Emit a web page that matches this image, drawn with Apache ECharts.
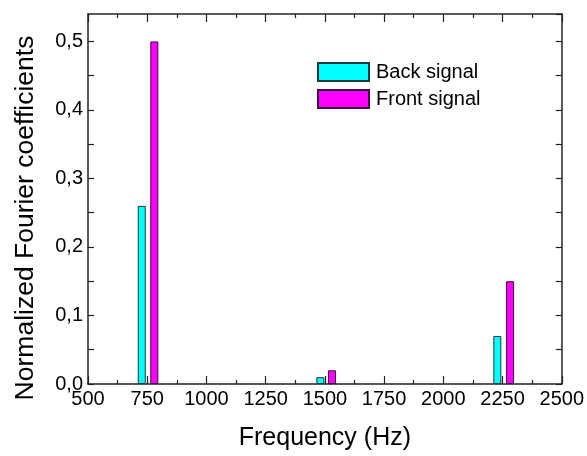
<!DOCTYPE html>
<html>
<head>
<meta charset="utf-8">
<script src="https://cdn.jsdelivr.net/npm/echarts@6/dist/echarts.min.js"></script>
<style>
    html, body { margin: 0; padding: 0; background: #fff; }
    #chart { width: 587px; height: 456px; }
</style>
</head>
<body>
<div id="chart"></div>
<script>
// values
const legendNames = ["Back signal", "Front signal"];
const backFreq = [727, 1481, 2228];
const backAmp = [0.26, 0.01, 0.07];
const frontFreq = [780, 1530, 2282];
const frontAmp = [0.5, 0.02, 0.15];
const xTicks = [500, 750, 1000, 1250, 1500, 1750, 2000, 2250, 2500];

const font = "Arial, 'Liberation Sans', sans-serif";
const axisColor = "#222";

function pairs(xs, ys) {
    return xs.map((x, i) => [x, ys[i]]);
}

let myChart = echarts.init(document.getElementById("chart"));

let xCommon = {
    type: "value",
    min: xTicks[0],
    max: xTicks[xTicks.length - 1],
    interval: xTicks[1] - xTicks[0],
    axisLine: { onZero: false, lineStyle: { color: axisColor, width: 1.5 } },
    axisTick: { inside: true, length: 8, lineStyle: { color: axisColor, width: 1.2 } },
    minorTick: { show: true, splitNumber: 2, length: 4, lineStyle: { color: axisColor, width: 1.2 } },
    splitLine: { show: false },
};

let yCommon = {
    type: "value",
    min: 0,
    max: 0.54,
    interval: 0.05,
    axisLine: { show: true, onZero: false, lineStyle: { color: axisColor, width: 1.5 } },
    axisTick: { show: true, inside: true, length: 6, lineStyle: { color: axisColor, width: 1.2 } },
    splitLine: { show: false },
};

myChart.setOption({
    animation: false,
    textStyle: { fontFamily: font },
    grid: { left: 88, right: 24, top: 14, bottom: 69, containLabel: false },
    legend: {
        data: legendNames,
        orient: "vertical",
        left: 317,
        top: 62,
        padding: 0,
        itemWidth: 51,
        itemHeight: 18,
        itemGap: 7,
        icon: "rect",
        textStyle: { color: "#000", fontSize: 20, fontFamily: font, padding: [0, 0, 0, 2] },
    },
    xAxis: [
        Object.assign({}, xCommon, {
            position: "bottom",
            name: "Frequency (Hz)",
            nameLocation: "middle",
            nameGap: 42,
            nameTextStyle: { color: "#000", fontSize: 25, fontFamily: font },
            axisLabel: {
                color: "#000",
                fontSize: 20,
                margin: 5,
                fontFamily: font,
                formatter: function (v) { return String(v); },
            },
        }),
        Object.assign({}, xCommon, {
            position: "top",
            axisLabel: { show: false },
        }),
    ],
    yAxis: [
        Object.assign({}, yCommon, {
            position: "left",
            name: "Normalized Fourier coefficients",
            nameLocation: "middle",
            nameGap: 49,
            nameTextStyle: { color: "#000", fontSize: 26.5, fontFamily: font, padding: [0, 38, 0, 0] },
            axisLabel: {
                color: "#000",
                fontSize: 20,
                margin: 5,
                fontFamily: font,
                showMaxLabel: false,
                formatter: function (v) {
                    if (Math.abs(v * 10 - Math.round(v * 10)) > 1e-6) return "";
                    return v.toFixed(1).replace(".", ",");
                },
            },
        }),
        Object.assign({}, yCommon, {
            position: "right",
            axisLabel: { show: false },
        }),
    ],
    series: [
        {
            type: "bar",
            name: legendNames[0],
            xAxisIndex: 0,
            yAxisIndex: 0,
            barWidth: 8,
            itemStyle: { color: "#00ffff", borderColor: "#1a3a3a", borderWidth: 1 },
            data: pairs(backFreq, backAmp),
        },
        {
            type: "bar",
            name: legendNames[1],
            xAxisIndex: 1,
            yAxisIndex: 0,
            barWidth: 8,
            itemStyle: { color: "#ff00ff", borderColor: "#3a0a3a", borderWidth: 1 },
            data: pairs(frontFreq, frontAmp),
        },
    ],
});
</script>
</body>
</html>
